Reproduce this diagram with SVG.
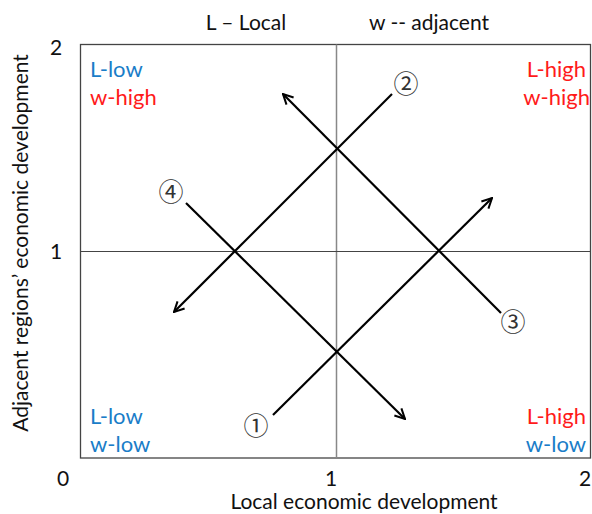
<svg xmlns="http://www.w3.org/2000/svg" width="592" height="514" viewBox="0 0 592 514">
<defs>
<marker id="ah" viewBox="0 0 12 12" refX="11" refY="6" markerWidth="12" markerHeight="12" markerUnits="userSpaceOnUse" orient="auto">
<path d="M1,1 L11,6 L1,11" fill="none" stroke="#000" stroke-width="2"/>
</marker>
<style>
.t{font-family:Lato,"Open Sans",sans-serif;font-size:21px;fill:#111}
.blue{fill:#1a7dc8}
.red{fill:#ff1a1a}
.q{font-family:Lato,"Open Sans",sans-serif;font-size:22px}
.c{font-family:"Noto Sans CJK JP","DejaVu Sans",serif;font-size:25px;fill:#333}
.ar{stroke:#000;stroke-width:2.2;fill:none;marker-end:url(#ah)}
</style>
</defs>
<g id="frame">
<rect x="80.5" y="44.5" width="510" height="413.5" fill="#fff" stroke="#444" stroke-width="1.3"/>
<line x1="336.5" y1="44.5" x2="336.5" y2="458" stroke="#888" stroke-width="1.5"/>
<line x1="80.5" y1="251.5" x2="590.5" y2="251.5" stroke="#444" stroke-width="1"/>
</g>
<g id="titles">
<text class="t" x="246" y="30" text-anchor="middle">L – Local</text>
<text class="t" x="429" y="30" text-anchor="middle">w -- adjacent</text>
<text class="t" x="364" y="509" text-anchor="middle">Local economic development</text>
<text class="t" transform="translate(28,243) rotate(-90)" text-anchor="middle">Adjacent regions’ economic development</text>
</g>
<g id="ticks">
<text class="t" x="56" y="55" text-anchor="middle">2</text>
<text class="t" x="56" y="259" text-anchor="middle">1</text>
<text class="t" x="63" y="486" text-anchor="middle">0</text>
<text class="t" x="331" y="486" text-anchor="middle">1</text>
<text class="t" x="585" y="486" text-anchor="middle">2</text>
</g>
<g id="quadrants">
<text class="q blue" x="90" y="77">L-low</text>
<text class="q red" x="90" y="105">w-high</text>
<text class="q red" x="586" y="77" text-anchor="end">L-high</text>
<text class="q red" x="590" y="105" text-anchor="end">w-high</text>
<text class="q blue" x="90" y="424">L-low</text>
<text class="q blue" x="90" y="452">w-low</text>
<text class="q red" x="586" y="424" text-anchor="end">L-high</text>
<text class="q blue" x="586" y="452" text-anchor="end">w-low</text>
</g>
<g id="connectors">
<line class="ar" x1="273" y1="415" x2="492" y2="198"/>
<line class="ar" x1="392" y1="94" x2="174" y2="312"/>
<line class="ar" x1="501" y1="313" x2="283" y2="94"/>
<line class="ar" x1="186" y1="203" x2="405" y2="419"/>
</g>
<g id="labels">
<text class="c" x="256" y="435" text-anchor="middle">①</text>
<text class="c" x="406" y="93" text-anchor="middle">②</text>
<text class="c" x="513" y="331" text-anchor="middle">③</text>
<text class="c" x="171" y="201" text-anchor="middle">④</text>
</g>
</svg>
